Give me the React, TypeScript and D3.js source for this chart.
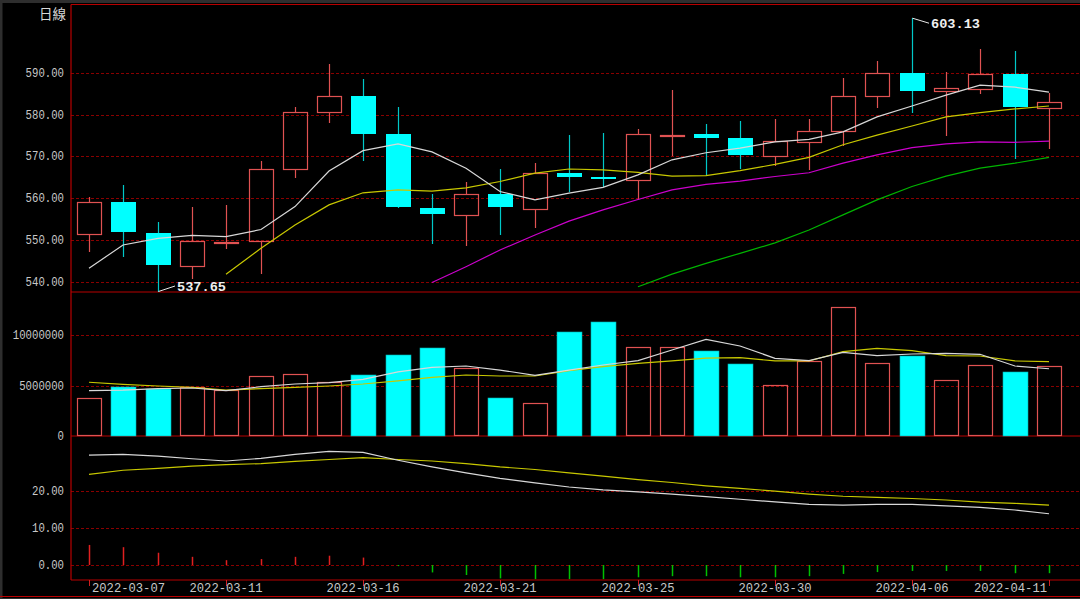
import React from 'react';
import * as d3 from 'd3';

// ---------- data ----------
const opens = [551.35, 559.2, 551.7, 543.8, 549.4, 549.8, 567.1, 580.7, 584.6, 575.4, 557.6, 556.0, 560.9, 557.5, 566.1, 565.2, 564.4, 575.0, 575.3, 574.4, 570.1, 573.4, 576.1, 584.6, 590.1, 585.6, 586.2, 589.8, 581.7];
const highs = [560.2, 563.1, 554.4, 557.9, 558.4, 568.9, 581.9, 592.2, 588.6, 581.8, 560.9, 563.8, 566.9, 568.5, 575.1, 575.7, 576.5, 585.9, 577.7, 578.5, 579.0, 579.0, 588.7, 592.9, 603.13, 590.3, 595.8, 595.3, 585.3];
const lows = [547.2, 545.9, 537.65, 540.6, 547.8, 541.8, 564.9, 578.1, 568.8, 557.6, 549.0, 548.6, 551.2, 552.8, 561.4, 562.8, 559.6, 570.2, 565.3, 566.9, 567.8, 566.8, 572.6, 581.7, 580.5, 574.9, 585.0, 569.3, 571.9];
const closes = [559.1, 551.8, 544.0, 549.7, 549.5, 567.1, 580.7, 584.6, 575.5, 557.8, 556.2, 560.9, 557.8, 566.1, 565.2, 564.6, 575.3, 575.1, 574.5, 570.4, 573.7, 576.1, 584.6, 589.9, 585.8, 586.4, 589.8, 581.9, 583.1];

const ma5 = [543.2, 548.8, 550.4, 551.1, 550.8, 552.5, 558.0, 566.5, 571.4, 573.0, 571.1, 567.2, 561.6, 559.6, 561.2, 562.6, 565.6, 569.2, 570.9, 572.0, 573.5, 574.1, 575.9, 579.5, 582.1, 584.7, 587.1, 586.6, 585.4];
const ma10 = [null, null, null, null, 541.8, 548.0, 553.6, 558.4, 561.3, 562.0, 561.7, 562.5, 564.0, 566.0, 567.0, 566.8, 566.2, 565.3, 565.4, 566.6, 568.1, 569.8, 572.8, 575.1, 577.3, 579.5, 580.5, 581.4, 582.1];
const ma20 = [null, null, null, null, null, null, null, null, null, null, 539.8, 543.6, 547.6, 551.2, 554.5, 557.2, 559.7, 562.0, 563.3, 564.1, 565.2, 566.1, 568.4, 570.4, 572.1, 573.0, 573.5, 573.4, 573.7];
const ma60 = [null, null, null, null, null, null, null, null, null, null, null, null, null, null, null, null, 538.8, 541.8, 544.4, 546.8, 549.3, 552.4, 556.0, 559.6, 562.8, 565.3, 567.2, 568.4, 569.8];

const volumes = [3730000, 4880000, 4620000, 4880000, 4550000, 5940000, 6170000, 5350000, 6070000, 7990000, 8750000, 6700000, 3730000, 3300000, 10330000, 11290000, 8810000, 8810000, 8420000, 7160000, 5080000, 7430000, 12740000, 7230000, 7920000, 5540000, 7000000, 6310000, 6900000];
const volMa5 = [4490000, 4550000, 4690000, 4750000, 4490000, 4880000, 5150000, 5280000, 5610000, 6340000, 6800000, 6930000, 6530000, 6010000, 6530000, 7030000, 7460000, 8510000, 9570000, 8910000, 7690000, 7460000, 8280000, 7950000, 8120000, 8180000, 8090000, 6930000, 6660000];
const volMa10 = [5320000, 5120000, 4950000, 4820000, 4550000, 4690000, 4820000, 4950000, 5150000, 5450000, 5810000, 6040000, 5940000, 5940000, 6470000, 6860000, 7200000, 7430000, 7720000, 7750000, 7430000, 7430000, 8350000, 8680000, 8450000, 7950000, 7920000, 7430000, 7360000];

const indWhite = [29.6, 29.8, 29.3, 28.6, 28.0, 28.7, 29.8, 30.6, 30.3, 28.2, 26.4, 24.8, 23.3, 22.1, 21.0, 20.2, 19.7, 19.1, 18.4, 17.7, 17.0, 16.3, 16.1, 16.3, 16.3, 15.9, 15.5, 14.8, 13.8];
const indYellow = [24.4, 25.5, 26.0, 26.6, 27.0, 27.3, 27.9, 28.4, 28.9, 28.4, 28.0, 27.3, 26.4, 25.7, 24.8, 23.9, 23.0, 22.2, 21.3, 20.6, 19.9, 19.1, 18.5, 18.2, 17.9, 17.5, 16.9, 16.6, 16.1];
const indBars = [5.4, 4.8, 3.3, 2.2, 1.3, 1.6, 2.2, 2.5, 2.0, -0.3, -2.0, -2.7, -3.6, -3.8, -3.8, -3.8, -3.3, -3.0, -3.0, -3.3, -3.3, -3.0, -2.4, -1.9, -1.6, -1.6, -1.6, -2.2, -2.2];

const tickIndices = [0, 4, 8, 12, 16, 20, 24, 28];
const tickLabels = ['2022-03-07', '2022-03-11', '2022-03-16', '2022-03-21', '2022-03-25', '2022-03-30', '2022-04-06', '2022-04-11'];
const priceTicks = [540, 550, 560, 570, 580, 590];
const volTicks = [0, 5000000, 10000000];
const indTicks = [0, 10, 20];
const periodLabel = '日線';

// ---------- layout ----------
const W = 1080, H = 599;
const L = 71, R = 1080;
const T = 4.5, S1 = 292, S2 = 436, B = 580;

const RED = '#e05252';
const CYAN = '#00ffff';
const CYAN_WICK = '#00c8c8';
const BORDER = '#b80000';
const GRID = '#8a0000';
const TXT = '#c8c8c8';

export default function App() {
  const idx = d3.range(opens.length);
  const xb = d3.scaleBand<number>().domain(idx).range([72, 1066]).paddingInner(0.3).paddingOuter(0.15);
  const bw = xb.bandwidth();
  const cx = (i: number) => Math.round((xb(i) as number) + bw / 2);

  const yP = d3.scaleLinear().domain([540, 590]).range([281.7, 73]);
  const yV = d3.scaleLinear().domain([0, 10000000]).range([436, 335]);
  const yI = d3.scaleLinear().domain([0, 20]).range([565, 490.7]);

  const mkLine = (ys: d3.ScaleLinear<number, number>) =>
    d3.line<number | null>()
      .defined((d) => d !== null)
      .x((_, i) => cx(i))
      .y((d) => ys(d as number));

  const lineP = mkLine(yP);
  const lineV = mkLine(yV);
  const lineI = mkLine(yI);

  const monoY = '"Liberation Mono", "DejaVu Sans Mono", monospace';

  const maxI = d3.maxIndex(highs);
  const minI = d3.minIndex(lows);

  const yLabel = (v: string, y: number, key: string) => (
    <text key={key} x={64} y={y + 0.5} fill={TXT} fontFamily={monoY} fontSize={13.5}
      textAnchor="end" dominantBaseline="central" textLength={v.length * 6.4} lengthAdjust="spacingAndGlyphs">{v}</text>
  );

  return (
    <div style={{ position: 'absolute', left: 0, top: 0, width: W, height: H }}>
      <svg width={W} height={H} style={{ display: 'block', background: '#000' }}>
        <rect x={0} y={0} width={W} height={H} fill="#000" />
        {/* outer frame */}
        <rect x={0} y={0} width={W} height={3} fill="#2e2e2e" />
        <rect x={0} y={0} width={2.5} height={H} fill="#2e2e2e" />
        <rect x={0} y={598} width={W} height={1} fill="#2e2e2e" />
        <line x1={0} x2={W} y1={596.5} y2={596.5} stroke={BORDER} strokeWidth={1.2} />

        {/* grids */}
        {priceTicks.map((t) => (
          <line key={'gp' + t} x1={L} x2={R} y1={Math.round(yP(t)) + 0.5} y2={Math.round(yP(t)) + 0.5} stroke={GRID} strokeDasharray="3,2" />
        ))}
        {volTicks.filter((t) => t > 0).map((t) => (
          <line key={'gv' + t} x1={L} x2={R} y1={Math.round(yV(t)) + 0.5} y2={Math.round(yV(t)) + 0.5} stroke={GRID} strokeDasharray="3,2" />
        ))}
        {indTicks.map((t) => (
          <line key={'gi' + t} x1={L} x2={R} y1={Math.round(yI(t)) + 0.5} y2={Math.round(yI(t)) + 0.5} stroke={GRID} strokeDasharray="3,2" />
        ))}

        {/* panel borders */}
        <line x1={L} x2={R} y1={T} y2={T} stroke={BORDER} strokeWidth={1.2} />
        <line x1={L} x2={R} y1={S1} y2={S1} stroke={BORDER} strokeWidth={1.2} />
        <line x1={L} x2={R} y1={S2} y2={S2} stroke={BORDER} strokeWidth={1.2} />
        <line x1={L} x2={R} y1={B} y2={B} stroke={BORDER} strokeWidth={1.2} />
        <line x1={L} x2={L} y1={T} y2={B} stroke={BORDER} strokeWidth={1.2} />

        {/* y labels */}
        <text x={66} y={13} fill="#d8d8d8" fontFamily='"Noto Sans CJK TC", sans-serif' fontSize={13.5} textAnchor="end" dominantBaseline="central">{periodLabel}</text>
        {priceTicks.map((t) => yLabel(t.toFixed(2), yP(t), 'lp' + t))}
        {volTicks.map((t) => yLabel(String(t), yV(t), 'lv' + t))}
        {indTicks.map((t) => yLabel(t.toFixed(2), yI(t), 'li' + t))}

        {/* candles */}
        {idx.map((i) => {
          const o = opens[i], c = closes[i], h = highs[i], l = lows[i];
          const up = c >= o;
          const x = cx(i);
          const x0 = Math.round(xb(i) as number);
          const top = Math.round(yP(Math.max(o, c)));
          const bot = Math.round(yP(Math.min(o, c)));
          const yh = Math.round(yP(h));
          const yl = Math.round(yP(l));
          if (up) {
            const bh = Math.max(bot - top, 1);
            return (
              <g key={'c' + i}>
                <line x1={x + 0.5} x2={x + 0.5} y1={yh} y2={top} stroke={RED} strokeWidth={1.2} />
                <line x1={x + 0.5} x2={x + 0.5} y1={top + bh} y2={yl} stroke={RED} strokeWidth={1.2} />
                <rect x={x0 + 0.5} y={top + 0.5} width={Math.round(bw)} height={bh} fill="none" stroke={RED} strokeWidth={1.2} />
              </g>
            );
          }
          return (
            <g key={'c' + i}>
              <line x1={x + 0.5} x2={x + 0.5} y1={yh} y2={yl} stroke={CYAN_WICK} strokeWidth={1.2} />
              <rect x={x0} y={top} width={Math.round(bw) + 1} height={Math.max(bot - top, 2)} fill={CYAN} />
            </g>
          );
        })}

        {/* price MAs */}
        <path d={lineP(ma60) || ''} fill="none" stroke="#00b400" strokeWidth={1.2} />
        <path d={lineP(ma20) || ''} fill="none" stroke="#cc00cc" strokeWidth={1.2} />
        <path d={lineP(ma10) || ''} fill="none" stroke="#c8c800" strokeWidth={1.2} />
        <path d={lineP(ma5) || ''} fill="none" stroke="#d8d8d8" strokeWidth={1.2} />

        {/* high / low annotations */}
        <g>
          <line x1={cx(maxI) + 0.5} y1={yP(highs[maxI])} x2={cx(maxI) + 17} y2={yP(highs[maxI]) + 5} stroke="#e8e8e8" />
          <text x={cx(maxI) + 19} y={yP(highs[maxI]) + 6.5} fill="#f0f0f0" fontFamily={monoY} fontWeight="bold" fontSize={13.5}
            dominantBaseline="central" textLength={49} lengthAdjust="spacingAndGlyphs">{highs[maxI].toFixed(2)}</text>
          <line x1={cx(minI) + 0.5} y1={yP(lows[minI])} x2={cx(minI) + 17} y2={yP(lows[minI]) - 5.5} stroke="#e8e8e8" />
          <text x={cx(minI) + 19} y={yP(lows[minI]) - 4.5} fill="#f0f0f0" fontFamily={monoY} fontWeight="bold" fontSize={13.5}
            dominantBaseline="central" textLength={49} lengthAdjust="spacingAndGlyphs">{lows[minI].toFixed(2)}</text>
        </g>

        {/* volume bars */}
        {idx.map((i) => {
          const up = closes[i] >= opens[i];
          const x0 = Math.round(xb(i) as number);
          const top = Math.round(yV(volumes[i]));
          const base = Math.round(yV(0));
          return up ? (
            <rect key={'v' + i} x={x0 + 0.5} y={top + 0.5} width={Math.round(bw)} height={base - top - 1} fill="none" stroke={RED} strokeWidth={1.2} />
          ) : (
            <rect key={'v' + i} x={x0} y={top} width={Math.round(bw) + 1} height={base - top} fill={CYAN} stroke="#00b0b0" strokeWidth={0.6} />
          );
        })}
        <path d={lineV(volMa10) || ''} fill="none" stroke="#c8c800" strokeWidth={1.2} />
        <path d={lineV(volMa5) || ''} fill="none" stroke="#d8d8d8" strokeWidth={1.2} />

        {/* indicator panel */}
        {idx.map((i) => {
          const v = indBars[i];
          return (
            <line key={'b' + i} x1={cx(i) + 0.5} x2={cx(i) + 0.5} y1={yI(0)} y2={yI(v)}
              stroke={v >= 0 ? '#e02020' : '#00c000'} strokeWidth={1.5} />
          );
        })}
        <path d={lineI(indYellow) || ''} fill="none" stroke="#c8c800" strokeWidth={1.2} />
        <path d={lineI(indWhite) || ''} fill="none" stroke="#d8d8d8" strokeWidth={1.2} />

        {/* x axis labels */}
        {tickIndices.map((ti, k) => {
          const x = cx(ti);
          const first = k === 0;
          const last = k === tickIndices.length - 1;
          return (
            <g key={'t' + ti}>
              <line x1={x + 0.5} x2={x + 0.5} y1={B} y2={B + 6} stroke="#d02020" />
              <text x={first ? x + 3 : last ? x - 2 : x} y={588} fill={TXT} fontFamily={monoY} fontSize={13.5}
                textAnchor={first ? 'start' : last ? 'end' : 'middle'} dominantBaseline="central"
                textLength={73} lengthAdjust="spacingAndGlyphs">{tickLabels[k]}</text>
            </g>
          );
        })}
      </svg>
    </div>
  );
}
